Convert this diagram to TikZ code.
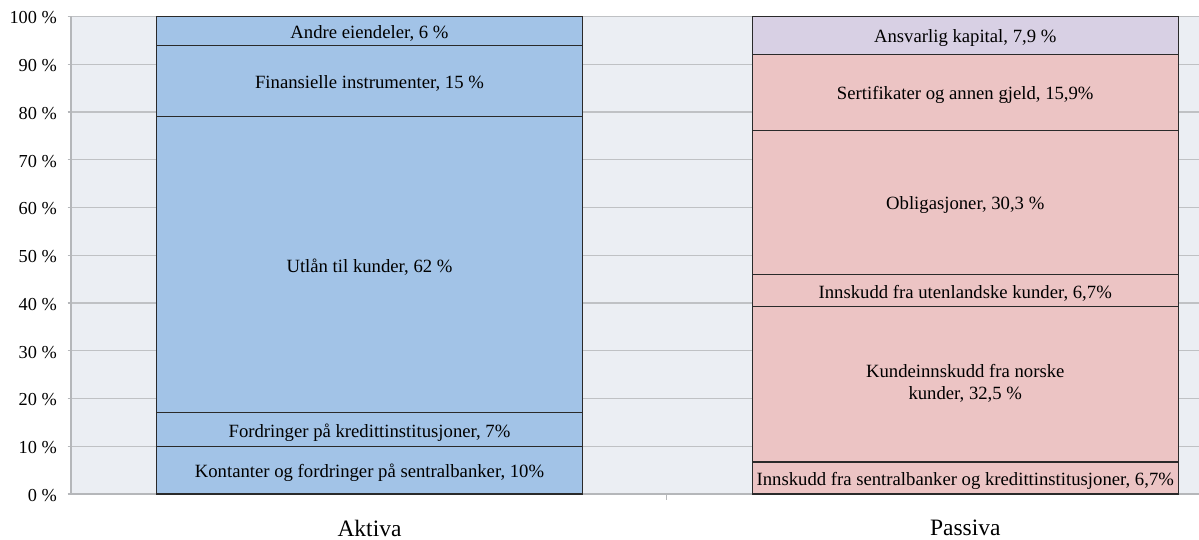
\documentclass[tikz,border=0pt]{standalone}
\usepackage{fontspec}
\setmainfont{Liberation Serif}
\definecolor{plotbg}{HTML}{EBEEF3}
\definecolor{gridc}{HTML}{BFC1C4}
\definecolor{axisc}{HTML}{B5B7BA}
\definecolor{blueseg}{HTML}{A2C3E7}
\definecolor{pinkseg}{HTML}{ECC4C4}
\definecolor{lavseg}{HTML}{D8D0E4}
\definecolor{edgec}{HTML}{2A2A2A}
\tikzset{
  seg/.style={draw=edgec, line width=1.1bp, inner sep=0pt, minimum width=425.6bp, align=center,
              text height=15bp, text depth=0bp,
              font=\fontsize{18.7bp}{21.5bp}\selectfont},
  asset/.style={seg, fill=blueseg},
  liab/.style={seg, fill=pinkseg},
  equity/.style={seg, fill=lavseg},
  ticklabel/.style={anchor=east, inner sep=0pt, font=\fontsize{18.3bp}{21bp}\selectfont},
  catlabel/.style={inner sep=0pt, font=\fontsize{23.5bp}{27bp}\selectfont},
  gridline/.style={draw=gridc, line width=1.2bp},
  axisline/.style={draw=axisc, line width=1.4bp}
}
\begin{document}
\begin{tikzpicture}[x=1bp,y=-1bp]
\useasboundingbox[fill=white] (0,0) rectangle (1199,540);
% plot area
\fill[plotbg] (71,16.5) rectangle (1199,494);
\foreach \p in {10,20,...,100} {
  \draw[gridline] (71,{494-4.775*\p}) -- (1199,{494-4.775*\p});
}
\foreach \p in {0,10,...,100} {
  \draw[axisline] (67.5,{494-4.775*\p}) -- (71,{494-4.775*\p});
  \node[ticklabel] (t\p) at (57,{494-4.775*\p+1.5}) {\p\ \%};
}
\draw[axisline] (71,16.5) -- (71,494);
\draw[axisline] (71,494) -- (1199,494);
\coordinate (ctA) at (666.7,494);
\coordinate (ctB) at (666.7,500);
\draw[axisline] (ctA) -- (ctB);
% Aktiva
\node[asset, minimum height=47.75bp] (a1) at (369.5,470.1) {Kontanter og fordringer på sentralbanker, 10\%};
\node[asset, minimum height=33.45bp] (a2) at (369.5,429.5) {Fordringer på kredittinstitusjoner, 7\%};
\node[asset, minimum height=296bp] (a3) at (369.5,264.8) {Utlån til kunder, 62 \%};
\node[asset, minimum height=71.65bp] (a4) at (369.5,81.0) {Finansielle instrumenter, 15 \%};
\node[asset, minimum height=28.65bp] (a5) at (369.5,30.8) {Andre eiendeler, 6 \%};
% Passiva
\node[liab, minimum height=32bp] (p1) at (965.25,478) {Innskudd fra sentralbanker og kredittinstitusjoner, 6,7\%};
\node[liab, minimum height=155.2bp, text height=, text depth=] (p2) at (965.25,384.4) {\raisebox{-2.5bp}{\begin{tabular}{@{}c@{}}Kundeinnskudd fra norske\\kunder, 32,5 \%\end{tabular}}};
\node[liab, minimum height=32bp] (p3) at (965.25,290.8) {Innskudd fra utenlandske kunder, 6,7\%};
\node[liab, minimum height=144.7bp] (p4) at (965.25,202.45) {Obligasjoner, 30,3 \%};
\node[liab, minimum height=75.9bp] (p5) at (965.25,92.15) {Sertifikater og annen gjeld, 15,9\%};
\node[equity, minimum height=37.7bp] (p6) at (965.25,35.35) {Ansvarlig kapital, 7,9 \%};
% categories
\node[catlabel] (ak) at (369.5,528) {Aktiva};
\node[catlabel] (pa) at (965.25,528) {Passiva};
\end{tikzpicture}
\end{document}
